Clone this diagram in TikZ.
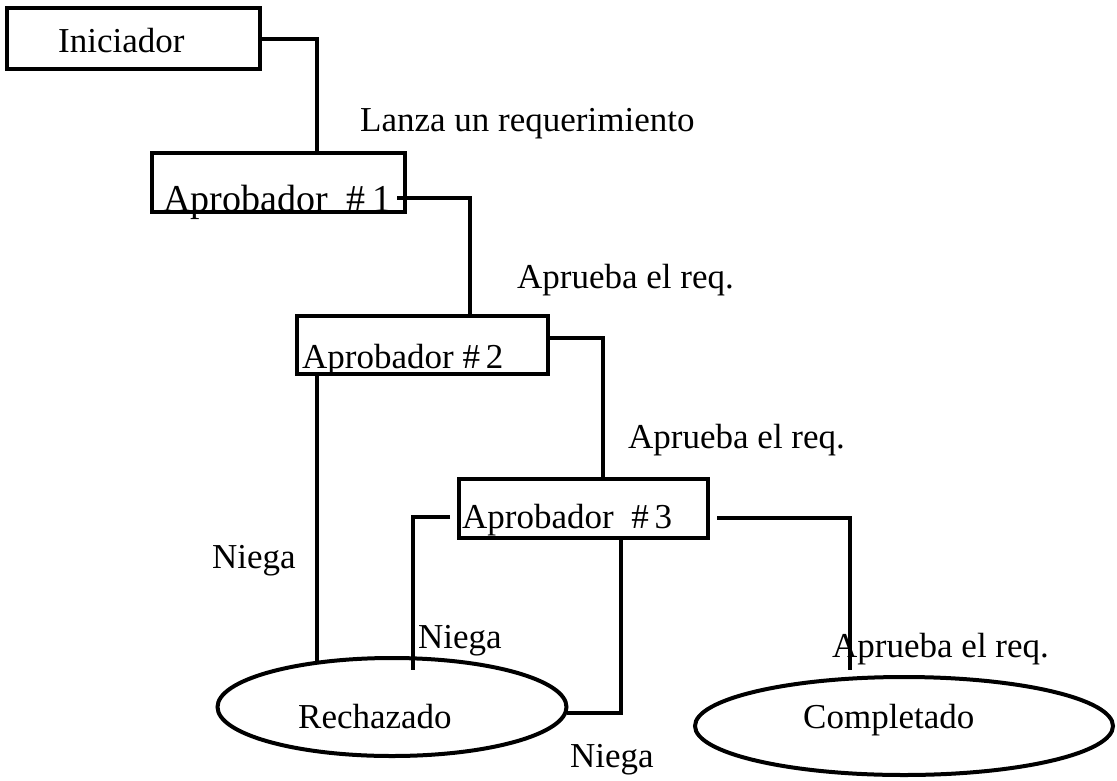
\documentclass[tikz,border=0pt]{standalone}
\usepackage{fontspec}
\setmainfont{Liberation Serif}
\usetikzlibrary{shapes.geometric}
\begin{document}
\begin{tikzpicture}[x=1pt,y=-1pt,
  every node/.style={font=\fontsize{35}{40}\selectfont},
  boxnode/.style={draw,line width=4pt,rectangle,inner sep=0pt},
  endnode/.style={draw,line width=4pt,ellipse,inner sep=0pt},
  txt/.style={anchor=base west,inner sep=0pt},
  link/.style={line width=4pt}]
\useasboundingbox (0,0) rectangle (1117,780);

% boxes
\node[boxnode,minimum width=253pt,minimum height=61pt] (ini) at (133.5,38.5) {};
\node[boxnode,minimum width=253pt,minimum height=59pt] (a1) at (278.5,182.5) {};
\node[boxnode,minimum width=251pt,minimum height=58pt] (a2) at (422.5,345) {};
\node[boxnode,minimum width=249pt,minimum height=59pt] (a3) at (583.5,508.5) {};
\node[endnode,minimum width=349pt,minimum height=98pt] (rech) at (392,707) {};
\node[endnode,minimum width=418pt,minimum height=98pt] (comp) at (904,726) {};

% box texts
\node[txt] (tini) at (58,52) {Iniciador};
\node[txt,font=\fontsize{38}{44}\selectfont] (ta1) at (163,211) {Aprobador\ \ \#\,1};
\node[txt] (ta2) at (302,368) {Aprobador \#\,2};
\node[txt] (ta3) at (462,528) {Aprobador\ \ \#\,3};
\node[txt] (trech) at (298,728) {Rechazado};
\node[txt] (tcomp) at (803,728) {Completado};

% connectors
\draw[link] (ini.east) -| ([xshift=38.5pt]a1.north);
\draw[link] ([xshift=-10pt,yshift=-15.5pt]a1.east) -| ([xshift=47.5pt]a2.north);
\draw[link] ([yshift=7pt]a2.east) -| ([xshift=19.5pt]a3.north);
\draw[link] ([xshift=-105.5pt]a2.south) -- ([xshift=-105.5pt]a2.south |- rech.150);
\draw[link] ([xshift=-7pt,yshift=-8.5pt]a3.west) -| ([xshift=21pt,yshift=-14pt]rech.north);
\draw[link] ([xshift=37.5pt]a3.south) |- (rech.-2);
\draw[link] ([xshift=7pt,yshift=-9.5pt]a3.east) -| ([xshift=-54pt,yshift=5pt]comp.north);

% connector labels
\node[txt] (l1) at (360,131) {Lanza un requerimiento};
\node[txt] (l2) at (517,288) {Aprueba el req.};
\node[txt] (l3) at (628,448) {Aprueba el req.};
\node[txt] (l4) at (212,568) {Niega};
\node[txt] (l5) at (418,648) {Niega};
\node[txt] (l6) at (570,767) {Niega};
\node[txt] (l7) at (832,657) {Aprueba el req.};
\end{tikzpicture}
\end{document}
